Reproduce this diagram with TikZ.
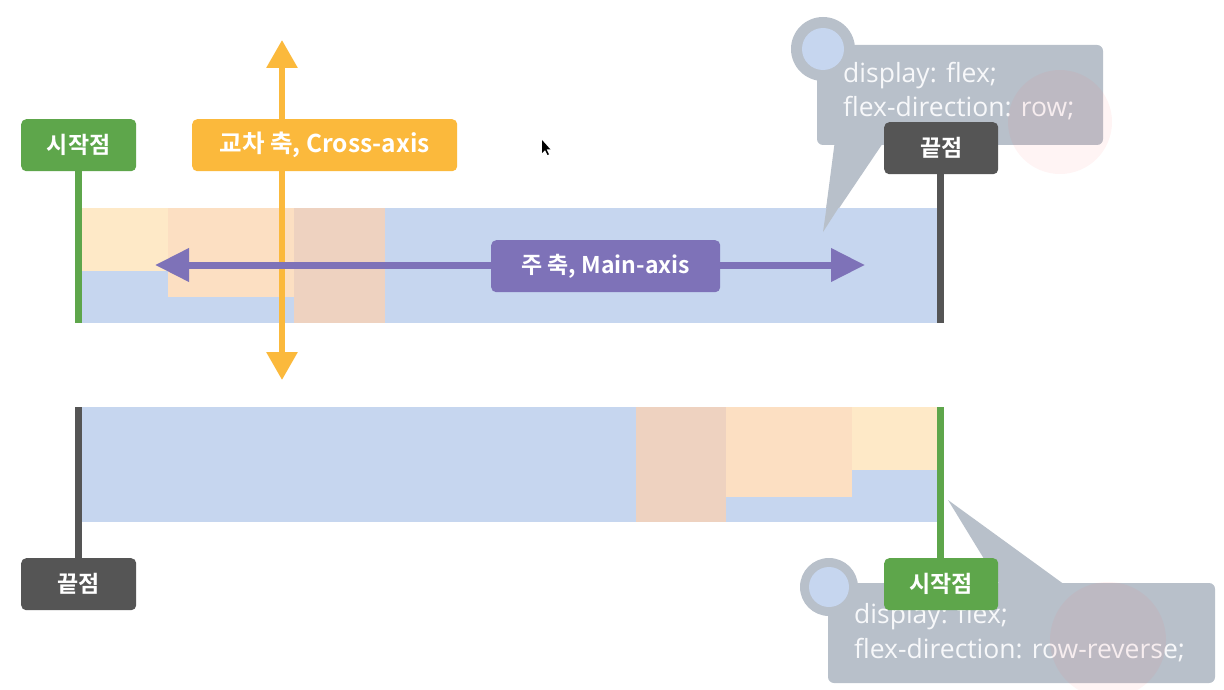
\documentclass[tikz,border=0pt]{standalone}
\usepackage{fontspec}
\setmainfont{Open Sans}
\newfontfamily\kofont{Noto Sans CJK KR}[BoldFont={* Bold}]
\usetikzlibrary{arrows.meta}
\definecolor{barblue}{HTML}{C6D6EF}
\definecolor{itemA}{HTML}{FEE9C7}
\definecolor{itemB}{HTML}{FCDFC2}
\definecolor{itemC}{HTML}{EED2C0}
\definecolor{startgreen}{HTML}{5EA64B}
\definecolor{enddark}{HTML}{555555}
\definecolor{crossorange}{HTML}{FBB93C}
\definecolor{mainpurple}{HTML}{7E72B8}
\definecolor{callgray}{HTML}{B8C0CA}
\definecolor{calltext}{HTML}{F7F8FA}
\tikzset{
  lbl/.style={rounded corners=5pt, text=white, font=\kofont\bfseries\fontsize{23}{26}\selectfont, inner sep=0pt, anchor=north west},
  callbox/.style={fill=callgray, rounded corners=6pt},
  calltxt/.style={text=calltext, font=\fontsize{26.5}{34}\selectfont, align=left, anchor=north west, inner sep=0pt},
}
\begin{document}
\begin{tikzpicture}[x=1pt,y=-1pt]
\useasboundingbox (0,0) rectangle (1224,690);
\fill[white] (0,0) rectangle (1224,690);

% ---------- top callout ----------
\fill[callgray] (835,140) -- (823,232) -- (885,140) -- cycle;
\fill[callbox] (817,45) rectangle (1103,145);
\fill[callgray] (823,49) circle (32);
\fill[barblue] (823,49) circle (21);
\node[calltxt] (topcode) at (843,62) {display: flex;\\flex-direction: row;};

% ---------- top bar ----------
\fill[barblue] (82,208) rectangle (940,323);
\fill[itemA] (82,208) rectangle (168,271);
\fill[itemB] (168,208) rectangle (294,297);
\fill[itemC] (294,208) rectangle (385,323);
% tail of top callout visible over bar
\fill[callgray] (829,190) -- (823,232) -- (850,190) -- cycle;

% start / end lines
\node[lbl, fill=startgreen, minimum width=115pt, minimum height=52pt] (s1) at (21,119) {시작점};
\node[lbl, fill=enddark, minimum width=114pt, minimum height=52pt] (e1) at (884,122) {끝점};
\coordinate (s1b) at (78,323);
\coordinate (e1b) at (940,323);
\draw[startgreen, line width=7pt] (s1.south -| s1b) -- (s1b);
\draw[enddark, line width=7pt] (e1.south -| e1b) -- (e1b);

% cross axis
\coordinate (ct) at (282,40);
\coordinate (cb) at (282,380);
\draw[crossorange, line width=6pt, {Triangle[width=30pt,length=28pt]}-{Triangle[width=30pt,length=28pt]}] (ct) -- (cb);
\node[lbl, fill=crossorange, minimum width=265pt, minimum height=52pt, font=\kofont\bfseries\fontsize{24.5}{27}\selectfont] (cl) at (192,119) {교차 축, Cross-axis};

% main axis
\coordinate (ml) at (155,265);
\coordinate (mr) at (865,265);
\draw[mainpurple, line width=7pt, {Triangle[width=32pt,length=34pt]}-{Triangle[width=32pt,length=34pt]}] (ml) -- (mr);
\node[lbl, fill=mainpurple, minimum width=229pt, minimum height=52pt] (ml2) at (491,240) {주 축, Main-axis};

% ---------- bottom bar ----------
\fill[barblue] (82,407) rectangle (940,522);
\fill[itemC] (636,407) rectangle (726,522);
\fill[itemB] (726,407) rectangle (852,497);
\fill[itemA] (852,407) rectangle (940,470);

% bottom callout
\fill[callgray] (948,500) -- (1000,585) -- (1065,585) -- cycle;
\fill[callbox] (828,583) rectangle (1215,683);
\fill[callgray] (829,587) circle (29);
\fill[barblue] (829,587) circle (20);
\node[calltxt, font=\fontsize{26.5}{35}\selectfont] (botcode) at (854,603) {display: flex;\\flex-direction: row-reverse;};

\node[lbl, fill=enddark, minimum width=115pt, minimum height=52pt] (e2) at (21,558) {끝점};
\node[lbl, fill=startgreen, minimum width=114pt, minimum height=52pt] (s2) at (884,558) {시작점};
\coordinate (e2t) at (78,407);
\coordinate (s2t) at (940,407);
\draw[enddark, line width=7pt] (e2t) -- (e2.north -| e2t);
\draw[startgreen, line width=7pt] (s2t) -- (s2.north -| s2t);

% faint highlight circles
\fill[red!60, opacity=0.07] (1060,122) circle (52);
\fill[red!60, opacity=0.07] (1108,640) circle (58);

% mouse cursor
\fill[black] (542,140) -- (542,153) -- (545,150) -- (547.5,155) -- (549,154.3) -- (546.6,149.5) -- (550.5,149.5) -- cycle;
\end{tikzpicture}
\end{document}
